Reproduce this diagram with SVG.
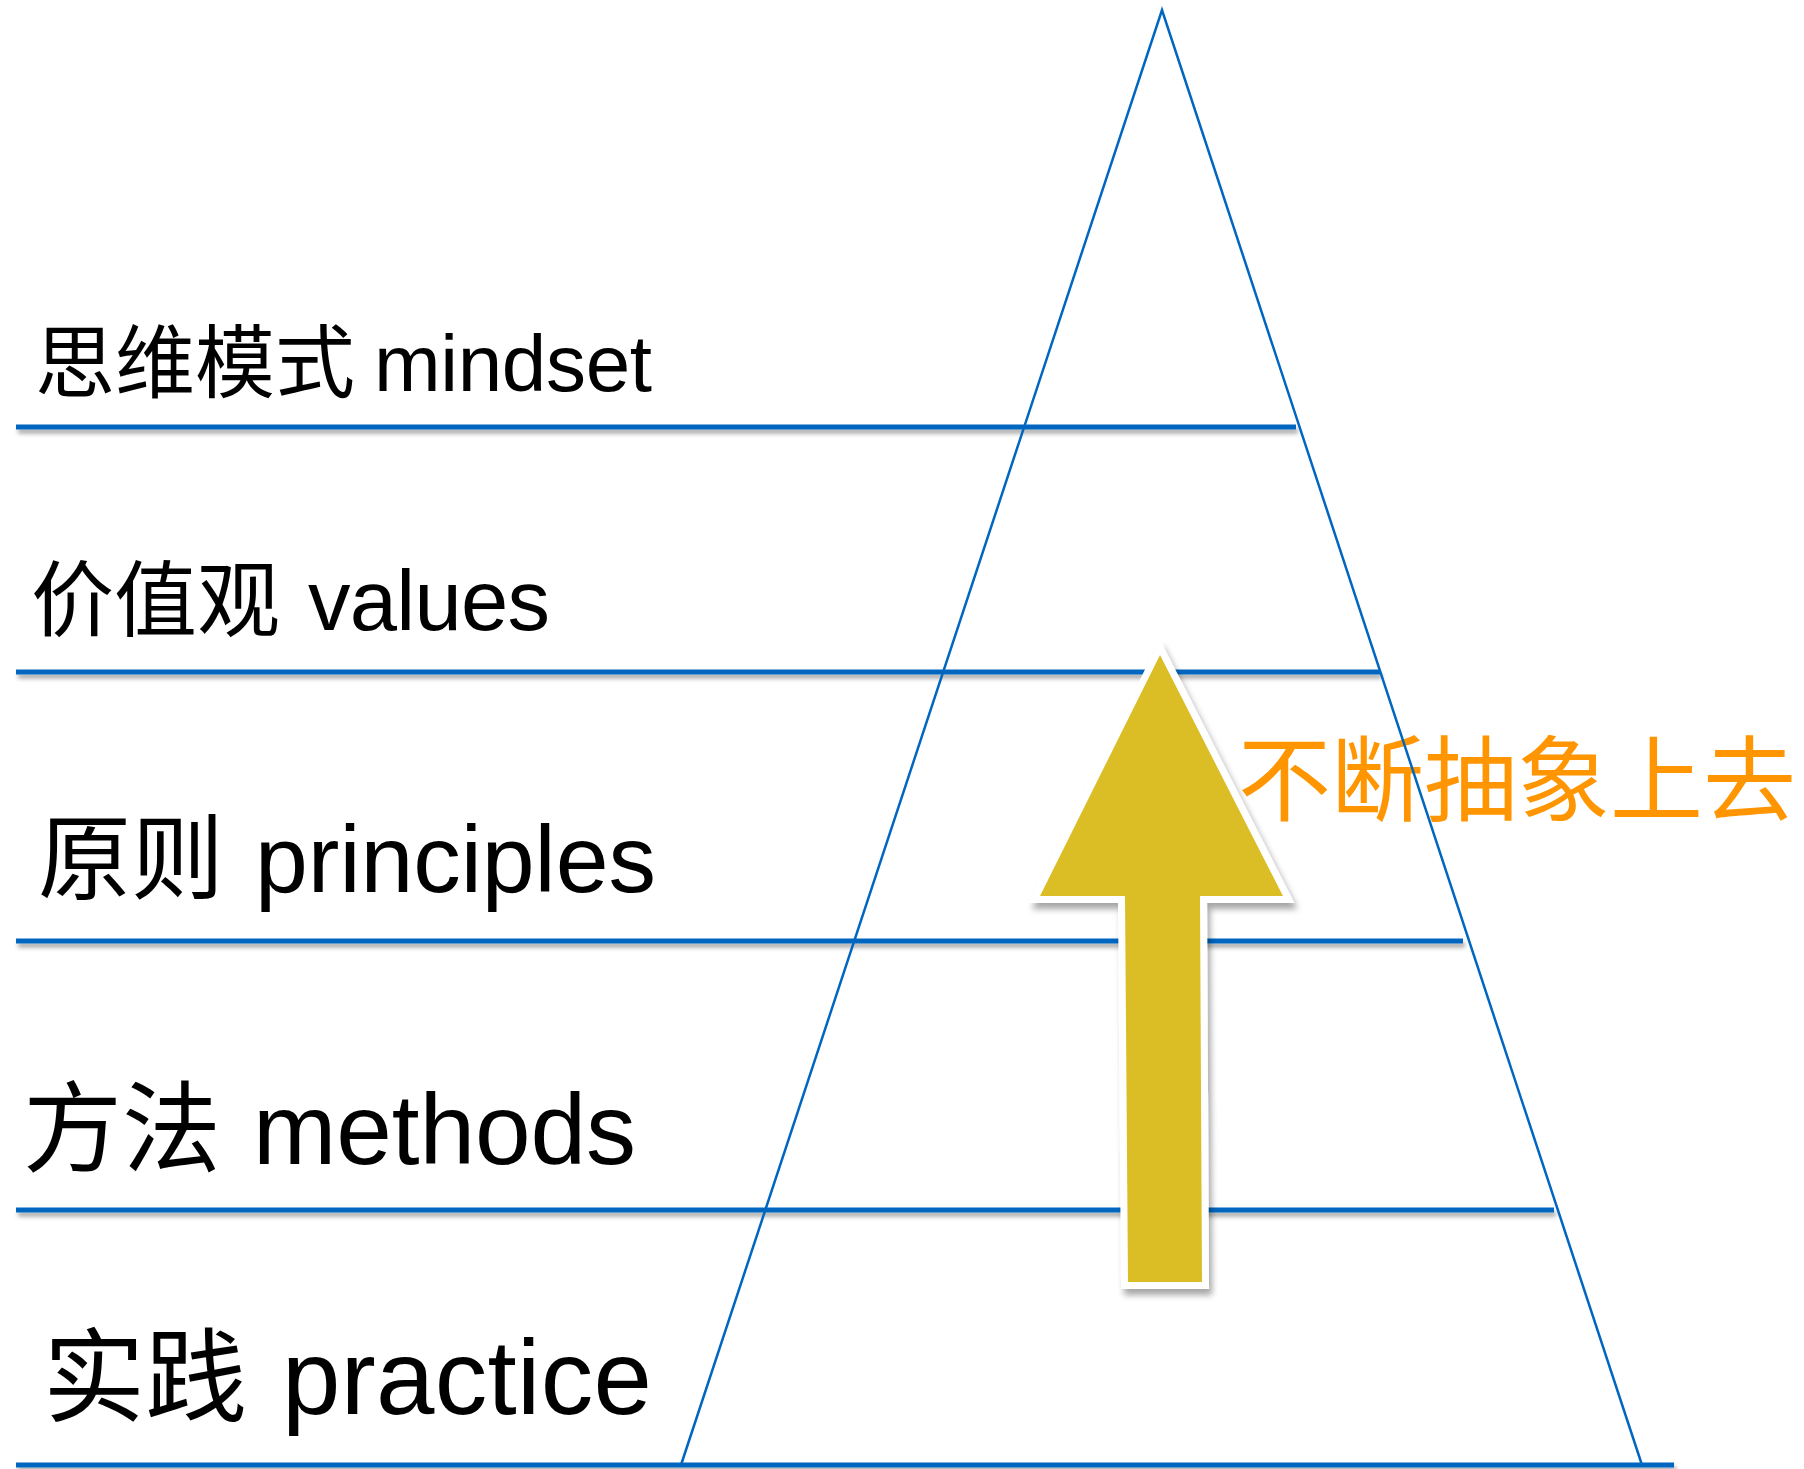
<svg xmlns="http://www.w3.org/2000/svg" width="1804" height="1469" viewBox="0 0 1804 1469">
<defs>
<filter id="sh" x="-5%" y="-200%" width="110%" height="500%">
<feDropShadow dx="2" dy="4" stdDeviation="2" flood-color="#000" flood-opacity="0.35"/>
</filter>
<filter id="ash" x="-20%" y="-10%" width="140%" height="120%">
<feDropShadow dx="3" dy="6" stdDeviation="3" flood-color="#000" flood-opacity="0.35"/>
</filter>
</defs>
<style>
.lvl{stroke:#0066c0;stroke-width:5;fill:none}
.tri{stroke:#0066c0;stroke-width:2.5;fill:none;stroke-linejoin:miter}
.lbl{font-family:"Liberation Sans","Noto Sans CJK SC",sans-serif;fill:#000}
.up{font-family:"Noto Sans CJK SC","Liberation Sans",sans-serif;fill:#ff9500}
</style>
<rect width="1804" height="1469" fill="#fff"/>
<g id="label-up">
<text class="up" x="1238" y="814" font-size="93">不断抽象上去</text>
</g>
<g id="levels" filter="url(#sh)">
<line class="lvl" x1="16" y1="427" x2="1296" y2="427"/>
<line class="lvl" x1="16" y1="672" x2="1380" y2="672"/>
<line class="lvl" x1="16" y1="941" x2="1463" y2="941"/>
<line class="lvl" x1="16" y1="1210" x2="1554" y2="1210"/>
<line class="lvl" x1="16" y1="1465" x2="1674" y2="1465"/>
</g>
<g id="pyramid">
<polyline class="tri" points="681,1465 1162,10 1642,1465"/>
</g>
<g id="arrow" filter="url(#ash)">
<polygon points="1160,655 1283,896 1200,896 1202,1282 1128,1282 1125,896 1040,896" fill="#dbbe27" stroke="#fff" stroke-width="14" stroke-linejoin="miter" stroke-miterlimit="10" paint-order="stroke"/>
</g>
<g id="level-mindset">
<text class="lbl" x="35" y="391" font-size="80">思维模式 <tspan x="374" textLength="278">mindset</tspan></text>
</g>
<g id="level-values">
<text class="lbl" x="31" y="630" font-size="83">价值观 <tspan x="308" font-size="85" textLength="242">values</tspan></text>
</g>
<g id="level-principles">
<text class="lbl" x="38" y="892" font-size="93">原则 <tspan x="255" font-size="95" textLength="401">principles</tspan></text>
</g>
<g id="level-methods">
<text class="lbl" x="23" y="1164" font-size="99">方法 <tspan x="253" font-size="100" textLength="383">methods</tspan></text>
</g>
<g id="level-practice">
<text class="lbl" x="43" y="1414" font-size="102">实践 <tspan x="282" font-size="105" textLength="370">practice</tspan></text>
</g>
</svg>
